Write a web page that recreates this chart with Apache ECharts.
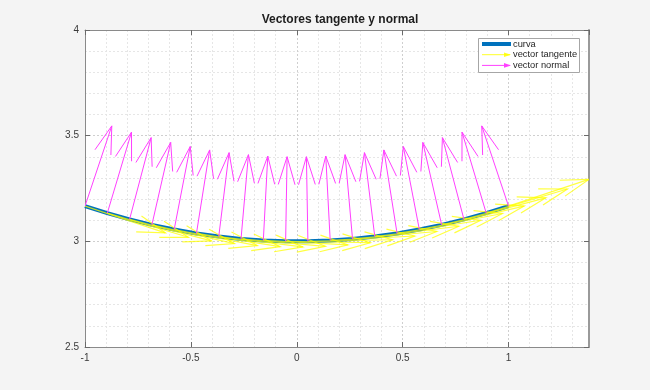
<!DOCTYPE html>
<html>
<head>
<meta charset="utf-8">
<script src="https://cdn.jsdelivr.net/npm/echarts@6/dist/echarts.min.js"></script>
<style>
html,body{margin:0;padding:0;background:#f4f4f4;}
#chart{width:650px;height:390px;}
</style>
</head>
<body>
<div id="chart"></div>
<script>
// Curve sample points
const xs = [-1, -0.8947, -0.7895, -0.6842, -0.5789, -0.4737, -0.3684, -0.2632, -0.1579, -0.0526,
            0.0526, 0.1579, 0.2632, 0.3684, 0.4737, 0.5789, 0.6842, 0.7895, 0.8947, 1];
const ys = [3.1667, 3.1334, 3.1039, 3.0780, 3.0559, 3.0374, 3.0226, 3.0115, 3.0042, 3.0005,
            3.0005, 3.0042, 3.0115, 3.0226, 3.0374, 3.0559, 3.0780, 3.1039, 3.1334, 3.1667];
// Tangent vector components
const tanU = [0.3795, 0.3833, 0.3868, 0.3900, 0.3928, 0.3951, 0.3970, 0.3985, 0.3994, 0.3999,
              0.3999, 0.3994, 0.3985, 0.3970, 0.3951, 0.3928, 0.3900, 0.3868, 0.3833, 0.3795];
const tanV = [-0.1265, -0.1143, -0.1018, -0.0889, -0.0758, -0.0624, -0.0488, -0.0350, -0.0210, -0.0070,
              0.0070, 0.0210, 0.0350, 0.0488, 0.0624, 0.0758, 0.0889, 0.1018, 0.1143, 0.1265];
// Normal vector components
const normU = [0.1265, 0.1143, 0.1018, 0.0889, 0.0758, 0.0624, 0.0488, 0.0350, 0.0210, 0.0070,
               -0.0070, -0.0210, -0.0350, -0.0488, -0.0624, -0.0758, -0.0889, -0.1018, -0.1143, -0.1265];
const normV = [0.3795, 0.3833, 0.3868, 0.3900, 0.3928, 0.3951, 0.3970, 0.3985, 0.3994, 0.3999,
               0.3999, 0.3994, 0.3985, 0.3970, 0.3951, 0.3928, 0.3900, 0.3868, 0.3833, 0.3795];
const xTicks = [-1, -0.5, 0, 0.5, 1];
const yTicks = [2.5, 3, 3.5, 4];
const titleText = 'Vectores tangente y normal';
const legendNames = ['curva', 'vector tangente', 'vector normal'];

const FONT = 'Liberation Sans, Arial, Helvetica, sans-serif';
const curveData = xs.map((x, i) => [x, ys[i]]);
const tanData = xs.map((x, i) => [x, ys[i], tanU[i], tanV[i]]);
const normData = xs.map((x, i) => [x, ys[i], normU[i], normV[i]]);

function quiver(color, width) {
  return function (params, api) {
    const x = api.value(0), y = api.value(1), u = api.value(2), v = api.value(3);
    const a = 0.33, b = 0.3;
    const p0 = api.coord([x, y]);
    const tip = api.coord([x + u, y + v]);
    const h1 = api.coord([x + u - a * (u + b * v), y + v - a * (v - b * u)]);
    const h2 = api.coord([x + u - a * (u - b * v), y + v - a * (v + b * u)]);
    const st = { stroke: color, lineWidth: width, fill: null };
    return {
      type: 'group',
      children: [
        { type: 'polyline', shape: { points: [p0, tip] }, style: st },
        { type: 'polyline', shape: { points: [h1, tip, h2] }, style: st }
      ]
    };
  };
}

const lineBase = { show: true, onZero: false, lineStyle: { color: '#8a8a8a', width: 1 } };
const tickBase = { show: true, inside: true, length: 5, lineStyle: { color: '#6a6a6a' } };
const axisCommon = {
  axisLine: lineBase,
  axisTick: tickBase,
  minorTick: { show: false, splitNumber: 5 },
  splitLine: { show: true, lineStyle: { color: '#cfcfcf', type: [2, 2] } },
  minorSplitLine: { show: true, lineStyle: { color: '#e6e6e6', type: [2, 2] } }
};

const chart = echarts.init(document.getElementById('chart'), null, { renderer: 'canvas' });
chart.setOption({
  animation: false,
  backgroundColor: '#f4f4f4',
  grid: { left: 85, right: 61, top: 30, bottom: 43, show: true, backgroundColor: '#ffffff', borderWidth: 0 },
  xAxis: [
    Object.assign({}, axisCommon, {
      type: 'value', position: 'bottom', min: xTicks[0], max: 1.38, interval: 0.5,
      axisLabel: { show: true, color: '#3a3a3a', fontSize: 10, fontFamily: FONT, margin: 6, showMaxLabel: false }
    }),
    {
      type: 'value', position: 'top', min: xTicks[0], max: 1.38, interval: 0.5,
      axisLine: lineBase, axisTick: tickBase,
      axisLabel: { show: false }, splitLine: { show: false }
    }
  ],
  yAxis: [
    Object.assign({}, axisCommon, {
      type: 'value', position: 'left', min: yTicks[0], max: yTicks[yTicks.length - 1], interval: 0.5,
      axisLabel: { show: true, color: '#3a3a3a', fontSize: 10, fontFamily: FONT, margin: 6 }
    }),
    {
      type: 'value', position: 'right', min: yTicks[0], max: yTicks[yTicks.length - 1], interval: 0.5,
      axisLine: { show: true, onZero: false, lineStyle: { color: '#9a9a9a', width: 2 } },
      axisTick: tickBase,
      axisLabel: { show: false }, splitLine: { show: false }
    }
  ],
  series: [
    {
      name: legendNames[0], type: 'line', data: curveData, showSymbol: false, smooth: false, z: 2,
      lineStyle: { color: '#0072BD', width: 4 }, itemStyle: { color: '#0072BD' }
    },
    {
      name: legendNames[1], type: 'custom', data: tanData, renderItem: quiver('rgba(255,255,0,0.75)', 1.2),
      encode: { x: 0, y: 1 }, clip: true, z: 3
    },
    {
      name: legendNames[2], type: 'custom', data: normData, renderItem: quiver('#ff40ff', 1),
      encode: { x: 0, y: 1 }, clip: true, z: 4
    }
  ],
  graphic: [
    { type: 'text', x: 340, y: 20, style: { text: titleText, fontSize: 12, fontWeight: 'bold', fontFamily: FONT, fill: '#1e1e1e', textAlign: 'center', textVerticalAlign: 'middle' } },
    { type: 'rect', shape: { x: 478.5, y: 38.5, width: 101, height: 34 }, style: { fill: '#ffffff', stroke: '#a6a6a6', lineWidth: 1 }, z: 100 },
    { type: 'line', shape: { x1: 482, y1: 44, x2: 511, y2: 44 }, style: { stroke: '#0072BD', lineWidth: 4 }, z: 101 },
    { type: 'line', shape: { x1: 482, y1: 54.7, x2: 510, y2: 54.7 }, style: { stroke: 'rgba(255,255,0,0.85)', lineWidth: 1 }, z: 101 },
    { type: 'polygon', shape: { points: [[504, 52.4], [511, 54.7], [504, 57]] }, style: { fill: 'rgba(255,255,0,0.85)' }, z: 101 },
    { type: 'line', shape: { x1: 482, y1: 65.4, x2: 510, y2: 65.4 }, style: { stroke: '#ff40ff', lineWidth: 1 }, z: 101 },
    { type: 'polygon', shape: { points: [[504, 63.1], [511, 65.4], [504, 67.7]] }, style: { fill: '#ff40ff' }, z: 101 },
    { type: 'text', x: 513, y: 44, style: { text: legendNames[0], fontSize: 9.3, fontFamily: FONT, fill: '#262626', textVerticalAlign: 'middle' }, z: 101 },
    { type: 'text', x: 513, y: 54.7, style: { text: legendNames[1], fontSize: 9.3, fontFamily: FONT, fill: '#262626', textVerticalAlign: 'middle' }, z: 101 },
    { type: 'text', x: 513, y: 65.4, style: { text: legendNames[2], fontSize: 9.3, fontFamily: FONT, fill: '#262626', textVerticalAlign: 'middle' }, z: 101 }
  ]
});
</script>
</body>
</html>
